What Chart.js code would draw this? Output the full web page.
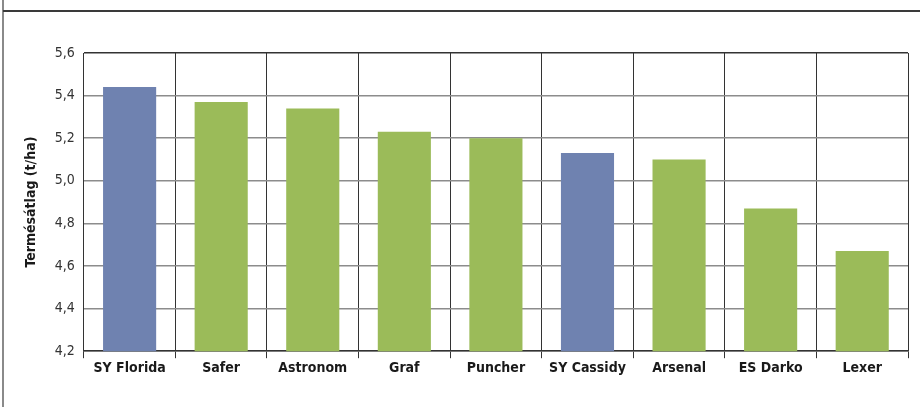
<!DOCTYPE html>
<html lang="hu">
<head>
    <meta charset="UTF-8">
    <title>Termésátlag</title>
    <script src="https://cdn.jsdelivr.net/npm/chart.js"></script>
    <style>
        html, body { margin: 0; padding: 0; background: #fff; }
        .wrap { position: relative; width: 920px; height: 407px; overflow: hidden; }
        .frame-left { position: absolute; left: 2px; top: 0; width: 2px; height: 407px; background: #8a8a8a; }
        .frame-top { position: absolute; left: 3px; top: 10px; width: 917px; height: 2px; background: #3a3a3a; }
        canvas { position: absolute; left: 0; top: 0; }
    </style>
</head>
<body>
    <div class="wrap">
        <div class="frame-left"></div>
        <div class="frame-top"></div>
        <canvas id="chart" width="920" height="407"></canvas>
    </div>
    <script>
        // fajták és termésátlag (t/ha)
        const fajtak = ['SY Florida', 'Safer', 'Astronom', 'Graf', 'Puncher', 'SY Cassidy', 'Arsenal', 'ES Darko', 'Lexer'];
        const termes = [5.44, 5.37, 5.34, 5.23, 5.20, 5.13, 5.10, 4.87, 4.67];
        const syFajta = [true, false, false, false, false, true, false, false, false];
        const yTengely = [4.2, 4.4, 4.6, 4.8, 5.0, 5.2, 5.4, 5.6];

        const kek = '#6f82b0';
        const zold = '#9bbb59';
        const betu = "'DejaVu Sans Condensed', 'Liberation Sans Narrow', sans-serif";

        new Chart(document.getElementById('chart'), {
            type: 'bar',
            data: {
                labels: fajtak,
                datasets: [{
                    data: termes,
                    backgroundColor: syFajta.map(sy => sy ? kek : zold),
                    borderWidth: 0,
                    barPercentage: 0.58,
                    categoryPercentage: 1
                }]
            },
            options: {
                responsive: false,
                animation: false,
                layout: { padding: { left: 23, right: 12, top: 53, bottom: 28 } },
                plugins: { legend: { display: false }, tooltip: { enabled: false } },
                scales: {
                    x: {
                        grid: { color: '#333', lineWidth: 1, offset: true, tickLength: 7 },
                        border: { color: '#333', width: 1.5 },
                        ticks: {
                            color: '#1a1a1a',
                            font: { family: betu, size: 14, weight: 'bold' },
                            padding: 2,
                            maxRotation: 0
                        }
                    },
                    y: {
                        min: 4.2,
                        max: 5.6,
                        afterBuildTicks: axis => { axis.ticks = yTengely.map(v => ({ value: v })); },
                        grid: {
                            color: ctx => (ctx.tick && ctx.tick.value === 5.6) ? '#333' : '#8c8c8c',
                            lineWidth: 1.5,
                            drawTicks: false
                        },
                        border: { color: '#333', width: 1 },
                        ticks: {
                            color: '#333',
                            padding: 9,
                            font: { family: betu, size: 14 },
                            callback: v => v.toFixed(1).replace('.', ',')
                        },
                        title: {
                            display: true,
                            text: 'Termésátlag (t/ha)',
                            color: '#1a1a1a',
                            font: { family: betu, size: 14, weight: 'bold' },
                            padding: { top: 0, bottom: 6 }
                        }
                    }
                }
            }
        });
    </script>
</body>
</html>
